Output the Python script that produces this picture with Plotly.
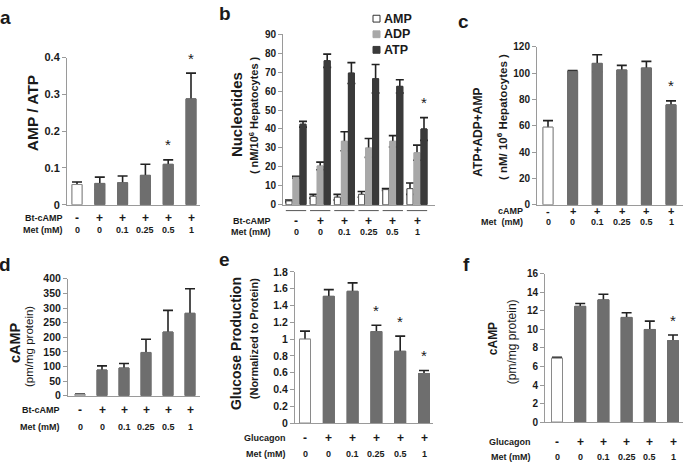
import plotly.graph_objects as go

W, H = 683, 467

# ---------------- data ----------------
met_doses = ["0", "0", "0.1", "0.25", "0.5", "1"]
treat_signs = ["-", "+", "+", "+", "+", "+"]

a_ratio = [0.055, 0.058, 0.060, 0.080, 0.110, 0.288]
a_err = [0.007, 0.017, 0.018, 0.030, 0.012, 0.070]
a_star = [False, False, False, False, True, True]

b_names = ["AMP", "ADP", "ATP"]
b_amp = [2.0, 4.5, 4.0, 5.5, 8.0, 8.5]
b_amp_err = [0.5, 1.0, 1.5, 1.5, 0.5, 3.0]
b_adp = [14.5, 20.5, 33.5, 30.0, 33.5, 27.5]
b_adp_err = [0.5, 2.0, 5.0, 5.0, 3.0, 4.0]
b_atp = [42.5, 76.0, 69.5, 66.5, 62.5, 40.0]
b_atp_err = [1.5, 3.5, 5.5, 7.5, 3.5, 6.0]
b_star = [False, False, False, False, False, True]

c_total = [59.0, 101.5, 107.5, 102.5, 104.0, 76.0]
c_err = [5.0, 0.5, 6.5, 3.5, 5.0, 3.0]
c_star = [False, False, False, False, False, True]

d_camp = [5.0, 88.0, 95.0, 148.0, 218.0, 282.0]
d_err = [1.0, 14.0, 15.0, 45.0, 74.0, 84.0]

e_glucose = [1.00, 1.51, 1.57, 1.09, 0.855, 0.59]
e_err = [0.095, 0.08, 0.10, 0.075, 0.18, 0.035]
e_star = [False, False, False, True, True, True]

f_camp = [6.9, 12.5, 13.2, 11.3, 10.0, 8.8]
f_err = [0.1, 0.3, 0.6, 0.5, 0.9, 0.6]
f_star = [False, False, False, False, False, True]

# ---------------- layout helpers ----------------
def PX(px):
    return px / W


def PY(py):
    return 1 - py / H


FONT = "Liberation Sans"
INK = "#1a1a1a"
AX = "#9a9a9a"
GREY = "#6e6e6e"

fig = go.Figure()
annotations = []
shapes = []

# panel geometry (pixels)
panels = {
    "a": dict(ax="", left=67, right=200, first=77, last=191, top=53, bottom=204,
              yr=[0, 0.4], dtick=0.1, tick=11, bw=10, row1="Bt-cAMP", rowy=(218, 230),
              labx=65, letter=(5, 12), sign=12),
    "b": dict(ax="2", left=283, right=435, first=296, last=417, top=29, bottom=204,
              yr=[0, 90], dtick=10, tick=10, bw=6, row1="Bt-cAMP", rowy=(221, 232),
              labx=273, letter=(225, 8), sign=12),
    "c": dict(ax="3", left=537, right=683, first=548, last=671, top=42, bottom=204,
              yr=[0, 120], dtick=20, tick=10, bw=10, row1="cAMP", rowy=(210, 222),
              labx=525, letter=(463, 16), sign=11),
    "d": dict(ax="4", left=68, right=200, first=80, last=190, top=280, bottom=400,
              yr=[0, 400], dtick=50, tick=10.5, bw=10, row1="Bt-cAMP", rowy=(415, 432),
              labx=62, letter=(5, 265), sign=12),
    "e": dict(ax="5", left=295, right=433, first=305, last=424, top=273, bottom=428,
              yr=[0, 1.8], dtick=0.2, tick=10.5, bw=11, row1="Glucagon", rowy=(443, 460),
              labx=288, letter=(224, 260), sign=12),
    "f": dict(ax="6", left=545, right=683, first=557, last=673, top=275, bottom=427,
              yr=[0, 16], dtick=2, tick=10, bw=11, row1="Glucagon", rowy=(447, 463),
              labx=533, letter=(466, 265), sign=12),
}

for key, p in panels.items():
    s = (p["last"] - p["first"]) / 5.0
    p["s"] = s
    xr = [(p["left"] - p["first"]) / s, (p["right"] - p["first"]) / s]
    xname = "xaxis" + p["ax"]
    yname = "yaxis" + p["ax"]
    fig.layout[xname] = dict(
        domain=[PX(p["left"]), min(1, PX(p["right"]))], range=xr,
        anchor="y" + p["ax"], showline=True, linecolor=AX, linewidth=1,
        showticklabels=False, ticks="", showgrid=False, zeroline=False, fixedrange=True)
    fig.layout[yname] = dict(
        domain=[PY(p["bottom"]), PY(p["top"])], range=p["yr"], dtick=p["dtick"],
        anchor="x" + p["ax"], showline=True, linecolor=AX, linewidth=1,
        ticks="outside", ticklen=4, tickcolor=AX, showgrid=False, zeroline=False,
        tickfont=dict(family=FONT, size=p["tick"], color=INK, weight="bold"),
        fixedrange=True)
    # panel letter
    annotations.append(dict(text=key, x=PX(p["letter"][0]), y=PY(p["letter"][1]),
                            xref="paper", yref="paper", showarrow=False,
                            xanchor="center", yanchor="middle",
                            font=dict(family=FONT, size=19, color=INK, weight="bold")))
    # row labels
    r1, r2 = p["rowy"]
    for txt, ry in ((p["row1"], r1), ("Met  (mM)" if key == "c" else "Met (mM)", r2)):
        annotations.append(dict(text=txt, x=PX(p["labx"]), y=PY(ry), xref="paper",
                                yref="paper", showarrow=False, xanchor="right",
                                yanchor="middle",
                                font=dict(family=FONT, size=9, color=INK, weight="bold")))
    for i in range(6):
        annotations.append(dict(text=treat_signs[i], x=i, y=PY(r1), xref="x" + p["ax"],
                                yref="paper", showarrow=False, xanchor="center",
                                yanchor="middle",
                                font=dict(family=FONT, size=p["sign"], color=INK,
                                          weight="bold")))
        annotations.append(dict(text=met_doses[i], x=i, y=PY(r2), xref="x" + p["ax"],
                                yref="paper", showarrow=False, xanchor="center",
                                yanchor="middle",
                                font=dict(family=FONT, size=9, color=INK, weight="bold")))


def add_series(p, vals, errs, fills, lines, off_px=0.0, cap=5, name=None):
    s = p["s"]
    w = p["bw"] / s
    off = off_px / s - w / 2
    xa = "x" + p["ax"]
    ya = "y" + p["ax"]
    xs = list(range(len(vals)))
    # under-layer carrying the error bars (lower half hidden by the top layer)
    fig.add_trace(go.Bar(x=xs, y=vals, width=w, offset=off, xaxis=xa, yaxis=ya,
                         marker=dict(color=fills, line=dict(color=lines, width=1)),
                         error_y=dict(type="data", array=errs, visible=True,
                                      color="#222222", thickness=1.6, width=cap),
                         showlegend=False, hoverinfo="skip"))
    fig.add_trace(go.Bar(x=xs, y=vals, width=w, offset=off, xaxis=xa, yaxis=ya,
                         marker=dict(color=fills, line=dict(color=lines, width=1)),
                         showlegend=False, name=name))


def add_stars(p, vals, errs, flags, off_px=0.0):
    for i, (v, e, f) in enumerate(zip(vals, errs, flags)):
        if f:
            annotations.append(dict(text="*", x=i + off_px / p["s"], y=v + e,
                                    xref="x" + p["ax"], yref="y" + p["ax"],
                                    showarrow=False, xanchor="center", yanchor="middle",
                                    yshift=15,
                                    font=dict(family=FONT, size=15, color=INK)))


def single_colors(n):
    fills = ["#ffffff"] + [GREY] * (n - 1)
    lines = ["#8a8a8a"] + [GREY] * (n - 1)
    return fills, lines


# panel a
fa, la = single_colors(6)
add_series(panels["a"], a_ratio, a_err, fa, la)
add_stars(panels["a"], a_ratio, a_err, a_star)

# panel b (grouped)
pb = panels["b"]
b_series = [(b_amp, b_amp_err, "#ffffff", "#555555", -7),
            (b_adp, b_adp_err, "#a8a8a8", "#a8a8a8", 0),
            (b_atp, b_atp_err, "#3a3a3a", "#3a3a3a", 7)]
for nm, (vals, errs, fc, lc, off) in zip(b_names, b_series):
    add_series(pb, vals, errs, fc, lc, off_px=off, cap=4, name=nm)
add_stars(pb, b_atp, b_atp_err, b_star, off_px=7)
for i in range(6):
    shapes.append(dict(type="line", xref="x2", yref="paper", x0=i - 0.42, x1=i + 0.42,
                       y0=PY(210), y1=PY(210), line=dict(color="#555555", width=1)))
# legend for b
leg_y = [13, 29, 45]
for nm, (vals, errs, fc, lc, off), ly in zip(b_names, b_series, leg_y):
    shapes.append(dict(type="rect", xref="paper", yref="paper", x0=PX(373), x1=PX(380),
                       y0=PY(ly + 3.5), y1=PY(ly - 3.5), fillcolor=fc,
                       line=dict(color=lc if fc != "#ffffff" else "#333333", width=1)))
    annotations.append(dict(text=nm, x=PX(382), y=PY(ly), xref="paper", yref="paper",
                            showarrow=False, xanchor="left", yanchor="middle",
                            font=dict(family=FONT, size=12.5, color=INK, weight="bold")))

# panel c
add_series(panels["c"], c_total, c_err, fa, la)
add_stars(panels["c"], c_total, c_err, c_star)
# panel d
add_series(panels["d"], d_camp, d_err, fa, la)
# panel e
add_series(panels["e"], e_glucose, e_err, fa, la)
add_stars(panels["e"], e_glucose, e_err, e_star)
# panel f
add_series(panels["f"], f_camp, f_err, fa, la)
add_stars(panels["f"], f_camp, f_err, f_star)

# y-axis titles (rotated text)
ytitles = [
    ("AMP / ATP", 32, 110, 15.5, "bold"),
    ("Nucleotides", 236, 112, 15, "bold"),
    ("( nM/10<sup>6</sup> Hepatocytes )", 254, 112, 11, "bold"),
    ("ATP+ADP+AMP", 478, 130, 12, "bold"),
    ("( nM/ 10<sup>6</sup> Hepatocytes )", 502, 114, 11.5, "bold"),
    ("cAMP", 15, 346, 14.5, "bold"),
    ("(pm/mg protein)", 29, 350, 11.5, "normal"),
    ("Glucose Production", 236, 347, 14, "bold"),
    ("(Normalized to Protein)", 254, 342, 11, "bold"),
    ("cAMP", 493, 342, 12, "bold"),
    ("(pm/mg protein)", 512, 345, 12, "normal"),
]
for txt, x, y, sz, wt in ytitles:
    annotations.append(dict(text=txt, x=PX(x), y=PY(y), xref="paper", yref="paper",
                            showarrow=False, textangle=-90, xanchor="center",
                            yanchor="middle",
                            font=dict(family=FONT, size=sz, color=INK, weight=wt)))

fig.update_layout(
    width=W, height=H, margin=dict(l=0, r=0, t=0, b=0),
    paper_bgcolor="white", plot_bgcolor="white",
    barmode="overlay", showlegend=False,
    annotations=annotations, shapes=shapes,
    font=dict(family=FONT, color=INK),
)

fig.write_html("out.html", config={"displayModeBar": False},
               post_script="document.body.style.margin='0';document.body.style.padding='0';")
